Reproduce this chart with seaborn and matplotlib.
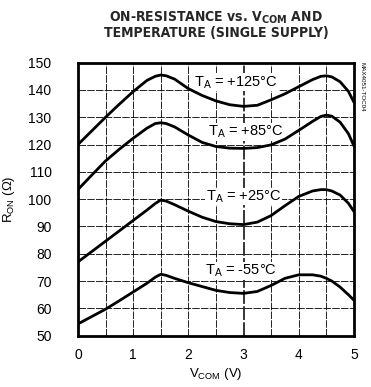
import matplotlib
matplotlib.use("Agg")
import matplotlib.pyplot as plt
import seaborn as sns
import pandas as pd

# V_COM sample points (V)
vcom = [0, 0.25, 0.5, 0.75, 1.0, 1.25, 1.4, 1.5, 1.6, 1.75, 2.0, 2.25, 2.5, 2.75,
        3.0, 3.25, 3.5, 3.75, 4.0, 4.25, 4.4, 4.5, 4.6, 4.75, 4.9, 5.0]

# R_ON (ohm)
ron_125 = [120, 125, 130, 134.8, 139.4, 143.5, 145, 145.5, 145.2, 144, 140.5, 138, 136,
           134.6, 134, 134.4, 136.4, 138.6, 141.2, 143.8, 145, 145.2, 144.8, 143, 139.5, 135.5]
ron_85 = [103.5, 108.8, 114, 118.3, 122.3, 126, 127.7, 128, 127.7, 126.5, 123.5, 120.8, 119.3,
          118.7, 118.6, 118.9, 119.9, 122, 125.2, 128.5, 130.3, 130.8, 130.4, 128.2, 124, 119.5]
ron_25 = [77, 80.8, 84.6, 88.4, 92.2, 96, 98.4, 99.7, 99.3, 98, 95.6, 93.4, 91.8, 91,
          90.7, 91.6, 94, 97.6, 101, 103, 103.5, 103.5, 103, 101.5, 98.5, 95.5]
ron_m55 = [54.3, 57, 59.7, 62.8, 66, 69.2, 71.4, 72.5, 72.1, 71, 69.4, 68, 66.6, 65.8,
           65.5, 66.2, 68.4, 71, 72.3, 72.3, 71.8, 71, 70, 67.8, 65, 63]

labels = ["T$\\mathregular{_A}$ = +125°C", "T$\\mathregular{_A}$ = +85°C",
          "T$\\mathregular{_A}$ = +25°C", "T$\\mathregular{_A}$ = -55°C"]
label_x = [2.87, 3.05, 3.0, 2.95]
label_y = [142.8, 124.7, 101.0, 73.8]

df = pd.DataFrame({
    "vcom": vcom * 4,
    "ron": ron_125 + ron_85 + ron_25 + ron_m55,
    "temp": [t for t in labels for _ in vcom],
})

sns.set_theme(style="white")
plt.rcParams['font.family'] = ['Liberation Sans', 'DejaVu Sans']

fig = plt.figure(figsize=(3.71, 3.87), dpi=100)
ax = fig.add_axes([0.210, 0.1326, 0.744, 0.7054])

sns.lineplot(data=df, x="vcom", y="ron", units="temp", estimator=None,
             color="black", linewidth=2.0, ax=ax, zorder=3, legend=False)

ax.set_xlim(0, 5)
ax.set_ylim(50, 150)
ax.set_xticks(range(0, 6))
ax.set_yticks(range(50, 151, 10))

# thin, nearly solid grid like the datasheet scan
for xv in [0.5 * i for i in range(1, 10)]:
    ax.axvline(xv, color="black", lw=1.1 if xv == 3 else 0.6,
               ls=(0, (9, 1.5)), zorder=1)
for yv in range(60, 150, 10):
    ax.axhline(yv, color="black", lw=0.6, ls=(0, (9, 1.5)), zorder=1)

for s in ax.spines.values():
    s.set_visible(True)
    s.set_color("black")
    s.set_linewidth(2.0)

ax.tick_params(axis="both", which="both", length=0, labelsize=10, colors="black")
ax.tick_params(axis="y", pad=19)
ax.tick_params(axis="x", pad=9)

# labels sit over the grid but under the curves
for txt, lx, ly in zip(labels, label_x, label_y):
    ax.text(lx, ly, txt, ha="center", va="center", fontsize=10.5, color="black",
            zorder=2, bbox=dict(facecolor="white", edgecolor="none", pad=0.5))

ax.set_xlabel("V$\\mathregular{_{COM}}$ (V)", fontsize=9.5, labelpad=3, color="black")
ax.set_ylabel("R$\\mathregular{_{ON}}$ (Ω)", fontsize=9.5, labelpad=8, color="black")

fig.text(0.583, 0.935, "ON-RESISTANCE vs. V$_{\\mathbf{COM}}$ AND\nTEMPERATURE (SINGLE SUPPLY)",
         ha="center", va="center", fontsize=10, fontweight="bold",
         family="DejaVu Sans", fontstretch="condensed", linespacing=1.0)

fig.text(0.977, 0.775, "MAX4051-TOC04", rotation=270, fontsize=4.5,
         ha="center", va="center", color="black")

fig.savefig("out.png", dpi=100)
